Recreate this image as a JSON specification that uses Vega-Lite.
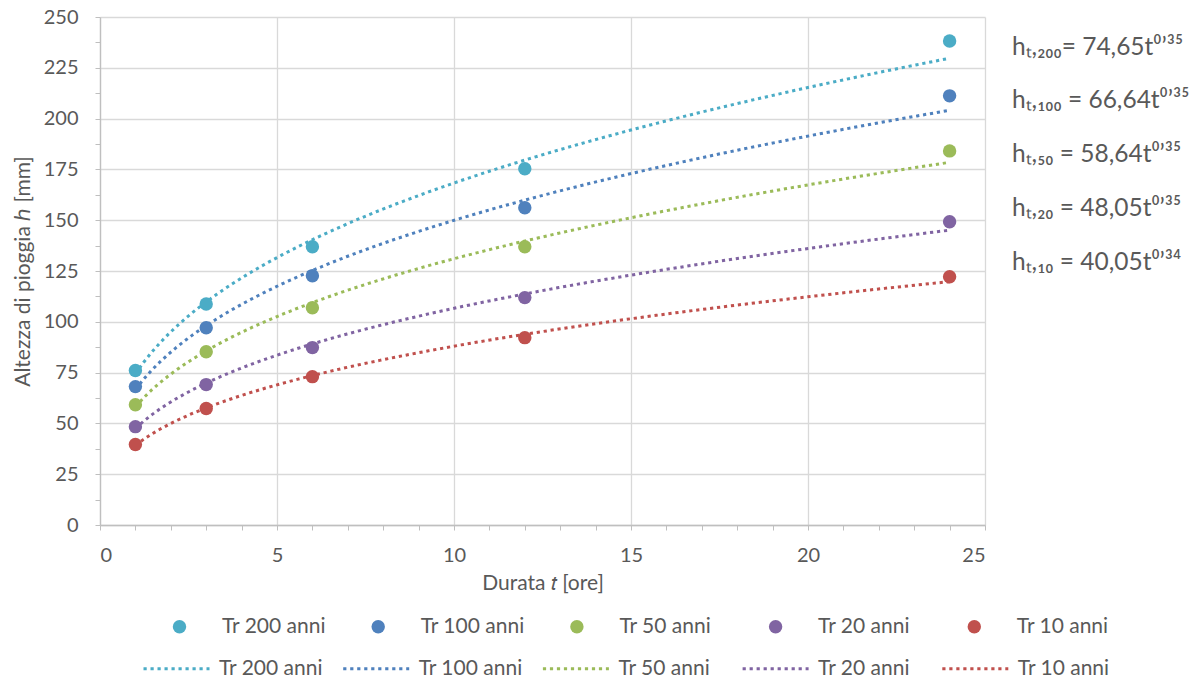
{
  "$schema": "https://vega.github.io/schema/vega-lite/v6.json",
  "width": 885,
  "height": 508,
  "autosize": {"type": "none"},
  "padding": {"left": 100, "top": 17, "right": 216, "bottom": 154},
  "background": "white",
  "config": {
    "font": "Lato",
    "view": {"stroke": null},
    "axis": {
      "labelFont": "Lato",
      "titleFont": "Lato",
      "labelColor": "#595959",
      "titleColor": "#595959",
      "labelFontSize": 20,
      "titleFontSize": 21,
      "titleFontWeight": "normal",
      "domainColor": "#bfbfbf",
      "tickColor": "#bfbfbf",
      "gridColor": "#d9d9d9",
      "gridWidth": 1.3,
      "domainWidth": 1.3,
      "tickSize": 5,
      "labelOverlap": false
    }
  },
  "data": {
    "values": [
      {"serie": "Tr 200 anni", "t": 1, "h": 76.0},
      {"serie": "Tr 200 anni", "t": 3, "h": 108.8},
      {"serie": "Tr 200 anni", "t": 6, "h": 136.9},
      {"serie": "Tr 200 anni", "t": 12, "h": 175.3},
      {"serie": "Tr 200 anni", "t": 24, "h": 238.2},
      {"serie": "Tr 100 anni", "t": 1, "h": 68.1},
      {"serie": "Tr 100 anni", "t": 3, "h": 97.1},
      {"serie": "Tr 100 anni", "t": 6, "h": 122.7},
      {"serie": "Tr 100 anni", "t": 12, "h": 156.1},
      {"serie": "Tr 100 anni", "t": 24, "h": 211.2},
      {"serie": "Tr 50 anni", "t": 1, "h": 59.2},
      {"serie": "Tr 50 anni", "t": 3, "h": 85.3},
      {"serie": "Tr 50 anni", "t": 6, "h": 106.9},
      {"serie": "Tr 50 anni", "t": 12, "h": 136.9},
      {"serie": "Tr 50 anni", "t": 24, "h": 184.1},
      {"serie": "Tr 20 anni", "t": 1, "h": 48.4},
      {"serie": "Tr 20 anni", "t": 3, "h": 69.1},
      {"serie": "Tr 20 anni", "t": 6, "h": 87.3},
      {"serie": "Tr 20 anni", "t": 12, "h": 111.9},
      {"serie": "Tr 20 anni", "t": 24, "h": 149.2},
      {"serie": "Tr 10 anni", "t": 1, "h": 39.6},
      {"serie": "Tr 10 anni", "t": 3, "h": 57.3},
      {"serie": "Tr 10 anni", "t": 6, "h": 73.0},
      {"serie": "Tr 10 anni", "t": 12, "h": 92.2},
      {"serie": "Tr 10 anni", "t": 24, "h": 122.2}
    ]
  },
  "encoding": {
    "x": {
      "field": "t",
      "type": "quantitative",
      "scale": {"domain": [0, 25], "nice": false, "zero": false},
      "axis": {
        "title": "Durata 𝑡 [ore]",
        "values": [0,1,2,3,4,5,6,7,8,9,10,11,12,13,14,15,16,17,18,19,20,21,22,23,24,25],
        "labelExpr": "datum.value % 5 === 0 ? datum.label : ''",
        "gridOpacity": {"condition": {"test": "datum.value % 5 === 0", "value": 1}, "value": 0},
        "labelPadding": 15,
        "titlePadding": 7
      }
    },
    "y": {
      "field": "h",
      "type": "quantitative",
      "scale": {"domain": [0, 250], "nice": false},
      "axis": {
        "title": "Altezza di pioggia ℎ [mm]",
        "values": [0,12.5,25,37.5,50,62.5,75,87.5,100,112.5,125,137.5,150,162.5,175,187.5,200,212.5,225,237.5,250],
        "labelExpr": "datum.value % 25 === 0 ? datum.label : ''",
        "gridOpacity": {"condition": {"test": "datum.value % 25 === 0", "value": 1}, "value": 0},
        "labelPadding": 17,
        "titlePadding": 10
      }
    }
  },
  "layer": [
    {
      "transform": [
        {"regression": "h", "on": "t", "groupby": ["serie"], "method": "pow", "extent": [1, 24]}
      ],
      "mark": {"type": "line", "strokeDash": [3.2, 3.8], "strokeWidth": 3},
      "encoding": {
        "stroke": {
          "field": "serie",
          "type": "nominal",
          "sort": ["Tr 200 anni", "Tr 100 anni", "Tr 50 anni", "Tr 20 anni", "Tr 10 anni"],
          "scale": {"range": ["#4BACC6", "#4F81BD", "#9BBB59", "#8064A2", "#C0504D"]},
          "legend": {
            "title": null,
            "orient": "none",
            "legendX": 42,
            "legendY": 617,
            "direction": "horizontal",
            "columns": 5,
            "gridAlign": "all",
            "columnPadding": 13.7,
            "padding": 0,
            "symbolType": "stroke",
            "symbolSize": 4356,
            "symbolStrokeWidth": 3,
            "symbolDash": [3.2, 3.8],
            "labelOffset": 8,
            "labelFont": "Lato",
            "labelFontSize": 21,
            "labelColor": "#595959",
            "labelLimit": 300
          }
        }
      }
    },
    {
      "mark": {"type": "point", "filled": true, "shape": "circle", "size": 180, "opacity": 1},
      "encoding": {
        "fill": {
          "field": "serie",
          "type": "nominal",
          "scale": {
            "domain": ["Tr 200 anni", "Tr 100 anni", "Tr 50 anni", "Tr 20 anni", "Tr 10 anni"],
            "range": ["#4BACC6", "#4F81BD", "#9BBB59", "#8064A2", "#C0504D"]
          },
          "legend": {
            "title": null,
            "orient": "none",
            "legendX": 69,
            "legendY": 599,
            "direction": "horizontal",
            "columns": 5,
            "gridAlign": "all",
            "columnPadding": 41.7,
            "padding": 0,
            "symbolType": "circle",
            "symbolSize": 180,
            "symbolOpacity": 1,
            "labelOffset": 32,
            "labelFont": "Lato",
            "labelFontSize": 21,
            "labelColor": "#595959",
            "labelLimit": 300
          }
        }
      }
    },
    {
      "data": {
        "values": [
          {"eq": "hₜ,₂₀₀= 74,65t⁰ʼ³⁵", "t": 25.76, "h": 231.5},
          {"eq": "hₜ,₁₀₀ = 66,64t⁰ʼ³⁵", "t": 25.76, "h": 205.4},
          {"eq": "hₜ,₅₀ = 58,64t⁰ʼ³⁵", "t": 25.76, "h": 178.8},
          {"eq": "hₜ,₂₀ = 48,05t⁰ʼ³⁵", "t": 25.76, "h": 152.2},
          {"eq": "hₜ,₁₀ = 40,05t⁰ʼ³⁴", "t": 25.76, "h": 125.6}
        ]
      },
      "mark": {"type": "text", "align": "left", "baseline": "alphabetic", "fontSize": 24.5, "font": "Lato", "color": "#595959"},
      "encoding": {
        "text": {"field": "eq", "type": "nominal"}
      }
    }
  ]
}
